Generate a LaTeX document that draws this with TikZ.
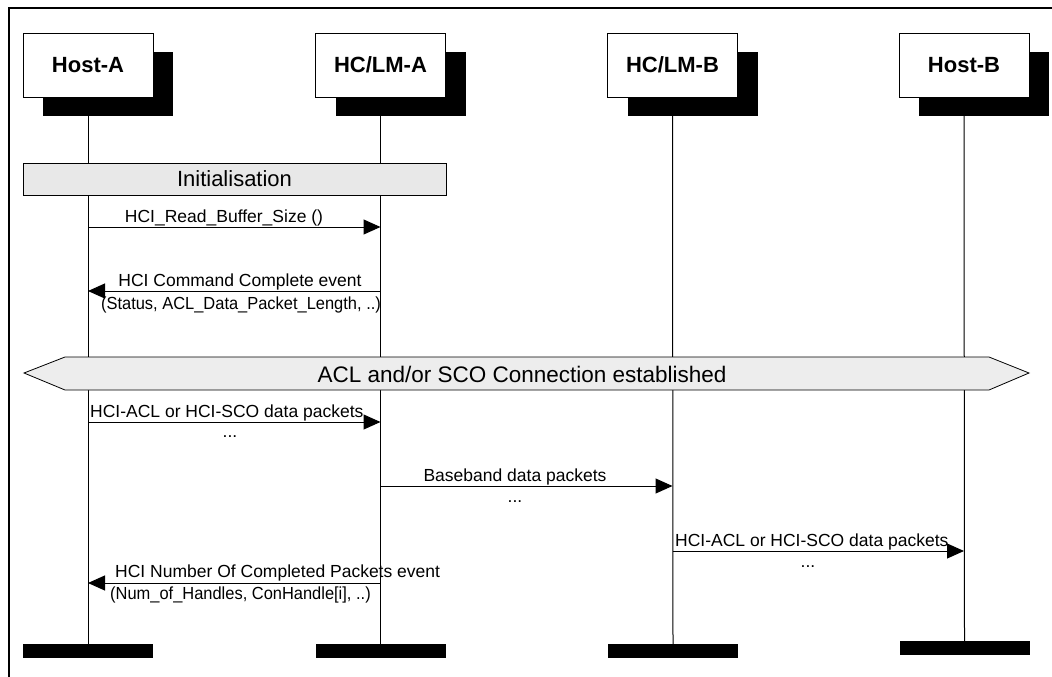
\documentclass[tikz,border=0pt]{standalone}
\usepackage{fontspec}
\setmainfont{Liberation Sans}
\newfontfamily\condfont{Liberation Sans}[FakeStretch=0.94]
\usetikzlibrary{arrows.meta,shadows,positioning}

\begin{document}
\begin{tikzpicture}[
    x=1pt, y=-1pt,
    entity/.style={draw=black, line width=0.8pt, fill=white,
                   minimum width=130pt, minimum height=64pt,
                   font=\fontsize{22}{26}\selectfont\bfseries,
                   drop shadow={shadow xshift=20pt, shadow yshift=-19pt,
                                fill=black, opacity=1}},
    endbar/.style={fill=black, minimum width=130pt, minimum height=14pt,
                   inner sep=0pt},
    lifeline/.style={line width=1pt},
    msg/.style={line width=1pt, -{Triangle[length=17pt,width=15pt]}},
    lbl/.style={font=\fontsize{17.5}{21}\selectfont, inner sep=0pt},
    plbl/.style={font=\condfont\fontsize{17.5}{21}\selectfont, inner sep=0pt},
    phase/.style={draw=black, line width=0.8pt, fill=gray!18,
                  font=\fontsize{22}{26}\selectfont, inner sep=0pt}
]
\useasboundingbox (0,0) rectangle (1052,677);

% --- frame (top and left edge) ---
\draw[line width=2pt] (9,677) -- (9,8) -- (1052,8);

% --- entities ---
\node[entity] (hostA) at (88,65)    {Host-A};
\node[entity] (hclmA) at (380.5,65) {HC/LM-A};
\node[entity] (hclmB) at (672.5,65) {HC/LM-B};
\node[entity] (hostB) at (964,65)   {Host-B};

% --- end bars ---
\node[endbar] (hostAend) at (88,651)    {};
\node[endbar] (hclmAend) at (380.5,651) {};
\node[endbar] (hclmBend) at (673,651)   {};
\node[endbar] (hostBend) at (964.5,648) {};

% --- lifelines ---
\draw[lifeline] (hostA.south) -- (hostAend.north);
\draw[lifeline] (hclmA.south) -- (hclmAend.north);
\draw[lifeline] (hclmB.south) -- (hclmBend.north);
\draw[lifeline] (hostB.south) -- (hostBend.north);

% --- initialisation phase ---
\node[phase, minimum width=423pt, minimum height=32pt] (init) at (234.5,179)
      {Initialisation};

% HCI_Read_Buffer_Size
\coordinate (rbA) at (hostA |- 0,227);
\coordinate (rbB) at (hclmA |- 0,227);
\draw[msg] (rbA) -- (rbB);
\node[lbl, anchor=base] (rbl) at (224,222) {HCI\_Read\_Buffer\_Size ()};

% HCI Command Complete event
\coordinate (ccB) at (hclmA |- 0,291);
\coordinate (ccA) at (hostA |- 0,291);
\draw[msg] (ccB) -- (ccA);
\node[lbl, anchor=base] (ccl) at (240,286) {HCI Command Complete event};
\node[plbl, anchor=base] (ccp) at (241,309) {(Status, ACL\_Data\_Packet\_Length, ..)};

% --- connection established ---
\draw[line width=0.8pt, fill=gray!14]
      (24,373) -- (65,357) -- (989,357) -- (1029,373) -- (989,390) -- (65,390) -- cycle;
\node[font=\fontsize{22.5}{26}\selectfont, inner sep=0pt] (conn) at (522,374)
      {ACL and/or SCO Connection established};

% HCI data packets Host-A -> HC/LM-A
\coordinate (dpA) at (hostA |- 0,422);
\coordinate (dpB) at (hclmA |- 0,422);
\draw[msg] (dpA) -- (dpB);
\node[lbl, anchor=base west] (dpl) at (90,417) {HCI-ACL or HCI-SCO data packets};
\node[lbl] (dpd) at (230,437) {...};

% baseband packets
\coordinate (bbA) at (hclmA |- 0,486);
\coordinate (bbB) at (hclmB |- 0,486);
\draw[msg] (bbA) -- (bbB);
\node[lbl, anchor=base] (bbl) at (515,481) {Baseband data packets};
\node[lbl] (bbd) at (515,502) {...};

% HCI data packets HC/LM-B -> Host-B
\coordinate (hbA) at (hclmB |- 0,551);
\coordinate (hbB) at (hostB |- 0,551);
\draw[msg] (hbA) -- (hbB);
\node[lbl, anchor=base west] (hbl) at (675,546) {HCI-ACL or HCI-SCO data packets};
\node[lbl] (hbd) at (808,567) {...};

% HCI Number Of Completed Packets event
\coordinate (ncB) at (hclmA |- 0,583);
\coordinate (ncA) at (hostA |- 0,583);
\draw[msg] (ncB) -- (ncA);
\node[lbl, anchor=base west] (ncl) at (115,577) {HCI Number Of Completed Packets event};
\node[plbl, anchor=base west] (ncp) at (110,599) {(Num\_of\_Handles, ConHandle[i], ..)};

\end{tikzpicture}
\end{document}
